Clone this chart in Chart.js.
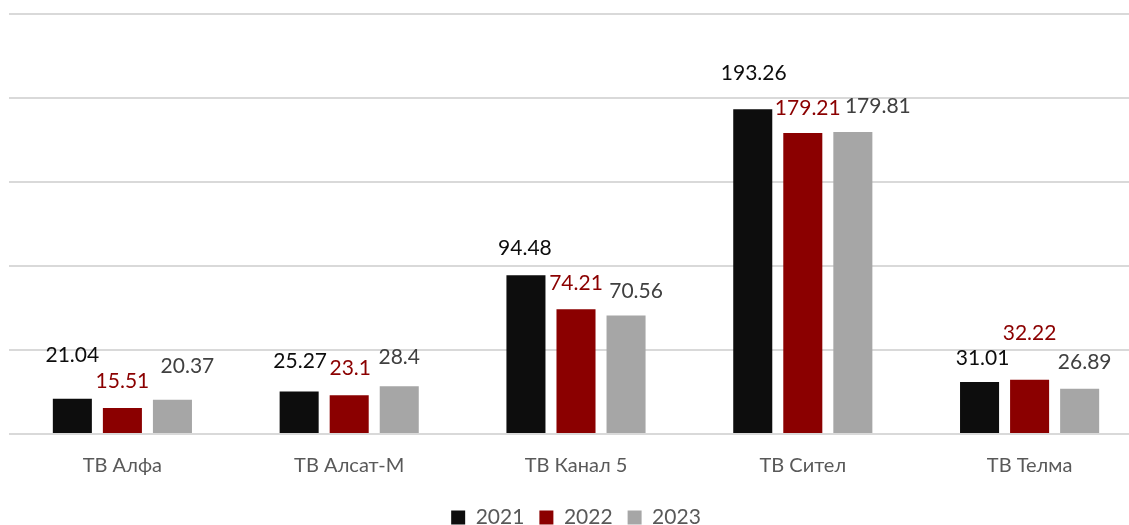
<!DOCTYPE html>
<html>
<head>
<meta charset="utf-8">
<script src="https://cdn.jsdelivr.net/npm/chart.js@4/dist/chart.umd.min.js"></script>
<style>
html,body{margin:0;padding:0;overflow:hidden;background:#fff;}
#wrap{width:1143px;height:525px;position:relative;}
</style>
</head>
<body>
<div id="wrap"><canvas id="c"></canvas></div>
<script>
const categories = ['ТВ Алфа', 'ТВ Алсат-М', 'ТВ Канал 5', 'ТВ Сител', 'ТВ Телма'];
const seriesNames = ['2021', '2022', '2023'];
const values2021 = [21.04, 25.27, 94.48, 193.26, 31.01];
const values2022 = [15.51, 23.1, 74.21, 179.21, 32.22];
const values2023 = [20.37, 28.4, 70.56, 179.81, 26.89];
const yTicks = [0, 50, 100, 150, 200, 250];

// label placement style (px): vertical gap above bar, horizontal shift
const labelDy = [[43,30,27,36,24],[27,27,26,25,47],[34,29,24,26,27]];
const labelDx = [[0,1,-1,1,3],[0,1,0,5,0],[15,0,10,25,5]];

const barColors = ['#0d0d0d', '#8b0000', '#a6a6a6'];
const labelColors = ['#0d0d0d', '#8b0000', '#404040'];
const FONT = 'Lato, "Open Sans", sans-serif';

const labelPlugin = {
  id: 'valLabels',
  afterDatasetsDraw(chart) {
    const ctx = chart.ctx;
    ctx.save();
    ctx.font = '21px ' + FONT;
    ctx.textAlign = 'center';
    ctx.textBaseline = 'middle';
    chart.data.datasets.forEach((ds, di) => {
      const meta = chart.getDatasetMeta(di);
      meta.data.forEach((el, i) => {
        ctx.fillStyle = labelColors[di];
        ctx.fillText(String(ds.data[i]), el.x + labelDx[di][i], el.y - labelDy[di][i]);
      });
    });
    ctx.restore();
  }
};

new Chart(document.getElementById('c'), {
  type: 'bar',
  data: {
    labels: categories,
    datasets: [values2021, values2022, values2023].map((v, i) => ({
      label: seriesNames[i],
      data: v,
      backgroundColor: barColors[i],
      borderWidth: 0,
      barPercentage: 0.78,
      categoryPercentage: 0.662
    }))
  },
  options: {
    responsive: true,
    maintainAspectRatio: false,
    animation: false,
    layout: { padding: { left: 9, right: 0, top: 14, bottom: -13 } },
    plugins: {
      legend: {
        position: 'bottom',
        labels: {
          boxWidth: 14, boxHeight: 14, padding: 15,
          color: '#595959',
          font: { family: FONT, size: 21 }
        }
      },
      tooltip: { enabled: false }
    },
    scales: {
      x: {
        grid: { display: false },
        border: { display: false },
        ticks: { color: '#595959', font: { family: FONT, size: 20 }, padding: 12 },
        afterFit(scale) { scale.height = 58; }
      },
      y: {
        min: 0, max: 250,
        afterBuildTicks(axis) { axis.ticks = yTicks.map(v => ({ value: v })); },
        grid: { color: '#d9d9d9', lineWidth: 2, drawTicks: false },
        border: { display: false },
        ticks: { display: false }
      }
    }
  },
  plugins: [labelPlugin]
});
</script>
</body>
</html>
